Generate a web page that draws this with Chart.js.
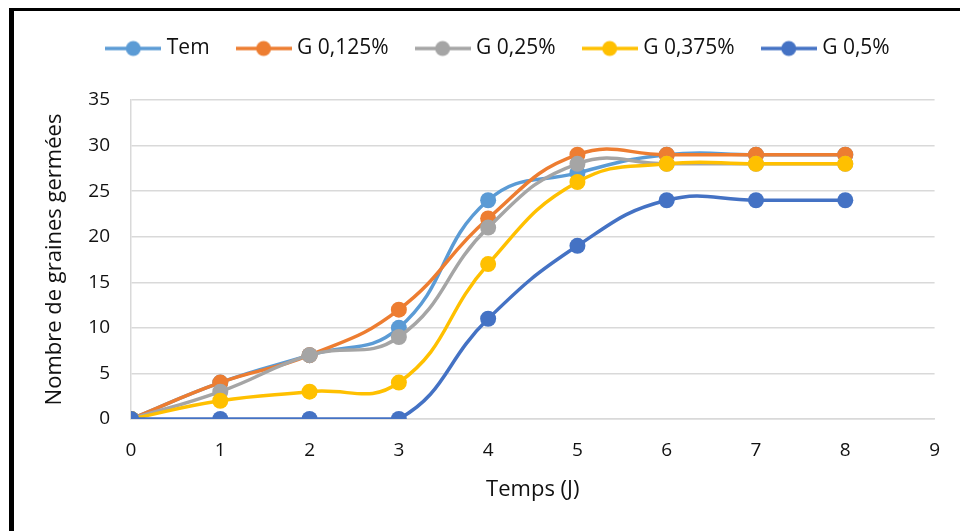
<!DOCTYPE html>
<html>
<head>
<meta charset="utf-8">
<script src="https://cdn.jsdelivr.net/npm/chart.js@4/dist/chart.umd.min.js"></script>
<style>
  html, body { margin: 0; padding: 0; background: #fff; }
  #wrap { position: relative; width: 960px; height: 531px; }
  #myChart { position: absolute; left: 0; top: 0; }
  #frame {
    position: absolute; left: 9px; top: 8px; right: -10px; bottom: -10px;
    border-left: 5px solid #000; border-top: 3px solid #000;
    pointer-events: none;
  }
</style>
</head>
<body>
<div id="wrap">
  <canvas id="myChart" width="960" height="531"></canvas>
  <div id="frame"></div>
</div>
<script>
// days of the test
var days = [0, 1, 2, 3, 4, 5, 6, 7, 8];

var seriesNames = ['Tem', 'G 0,125%', 'G 0,25%', 'G 0,375%', 'G 0,5%'];
var tem   = [0, 4, 7, 10, 24, 27, 29, 29, 29];
var g0125 = [0, 4, 7, 12, 22, 29, 29, 29, 29];
var g025  = [0, 3, 7, 9, 21, 28, 28, 28, 28];
var g0375 = [0, 2, 3, 4, 17, 26, 28, 28, 28];
var g05   = [0, 0, 0, 0, 11, 19, 24, 24, 24];

var yTicks = [0, 5, 10, 15, 20, 25, 30, 35];
var xTicks = [0, 1, 2, 3, 4, 5, 6, 7, 8, 9];

var colors = ['#5B9BD5', '#ED7D31', '#A5A5A5', '#FFC000', '#4472C4'];
var font = "'Open Sans', 'DejaVu Sans', sans-serif";

function points(values) {
    var result = [];
    for (var i = 0; i < days.length; i++) {
        result.push({x: days[i], y: values[i]});
    }
    return result;
}

// little line-with-dot picture for the legend
function legendMark(color) {
    var c = document.createElement('canvas');
    c.width = 56;
    c.height = 18;
    var g = c.getContext('2d');
    g.strokeStyle = color;
    g.lineWidth = 3.5;
    g.beginPath();
    g.moveTo(0, 9);
    g.lineTo(56, 9);
    g.stroke();
    g.fillStyle = color;
    g.beginPath();
    g.arc(28, 9, 7.5, 0, Math.PI * 2);
    g.fill();
    return c;
}

var allValues = [tem, g0125, g025, g0375, g05];
var datasets = [];
for (var i = 0; i < allValues.length; i++) {
    datasets.push({
        label: seriesNames[i],
        data: points(allValues[i]),
        borderColor: colors[i],
        backgroundColor: colors[i],
        pointBackgroundColor: colors[i],
        pointBorderColor: colors[i],
        pointBorderWidth: 0,
        pointRadius: 8,
        pointHoverRadius: 8,
        borderWidth: 3.5,
        tension: 0.45,
        fill: false,
        order: allValues.length - i
    });
}

// nudge the legend to where it sits over the plot
var legendShift = {
    id: 'legendShift',
    afterLayout: function (chart) {
        var lg = chart.legend;
        lg.left += 32;
        lg.right += 32;
        lg.top -= 31;
        lg.bottom -= 31;
    }
};

var ctx = document.getElementById('myChart');
var myChart = new Chart(ctx, {
    type: 'line',
    data: {datasets: datasets},
    plugins: [legendShift],
    options: {
        responsive: false,
        animation: false,
        layout: {padding: {left: 0, right: 24, top: 38, bottom: 0}},
        plugins: {
            tooltip: {enabled: false},
            legend: {
                position: 'top',
                labels: {
                    font: {family: font, size: 21},
                    color: '#111',
                    usePointStyle: true,
                    pointStyleWidth: 46,
                    padding: 31,
                    generateLabels: function (chart) {
                        var items = Chart.defaults.plugins.legend.labels.generateLabels(chart);
                        items.sort(function (a, b) { return a.datasetIndex - b.datasetIndex; });
                        items.forEach(function (it) {
                            it.pointStyle = legendMark(colors[it.datasetIndex]);
                        });
                        return items;
                    }
                }
            }
        },
        scales: {
            x: {
                type: 'linear',
                min: 0,
                max: 9,
                afterBuildTicks: function (scale) {
                    scale.ticks = xTicks.map(function (v) { return {value: v}; });
                },
                afterFit: function (scale) { scale.height = 112; },
                grid: {display: false, drawTicks: false},
                border: {display: true, color: '#d9d9d9', width: 1.5},
                ticks: {font: {family: font, size: 19}, color: '#111', padding: 20},
                title: {
                    display: true,
                    text: 'Temps (J)',
                    font: {family: font, size: 22},
                    color: '#111',
                    padding: {top: 0, bottom: 28}
                }
            },
            y: {
                min: 0,
                max: 35,
                afterBuildTicks: function (scale) {
                    scale.ticks = yTicks.map(function (v) { return {value: v}; });
                },
                afterFit: function (scale) { scale.width = 131; },
                grid: {color: '#d9d9d9', lineWidth: 1.5, drawTicks: false},
                border: {display: true, color: '#d9d9d9', width: 1.5},
                ticks: {font: {family: font, size: 19}, color: '#111', padding: 21},
                title: {
                    display: true,
                    text: 'Nombre de graines germées',
                    font: {family: font, size: 22},
                    color: '#111',
                    padding: {top: 42, bottom: 0}
                }
            }
        }
    }
});
</script>
</body>
</html>
